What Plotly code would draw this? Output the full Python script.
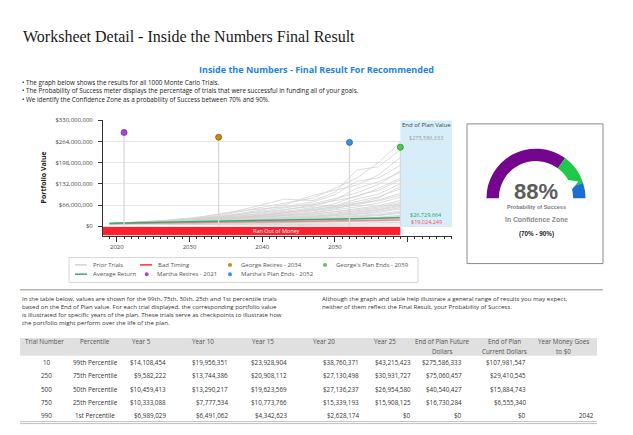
import numpy as np
import plotly.graph_objects as go

W, H = 633, 435
def PX(x): return x / W
def PY(y): return 1 - y / H

# ---------------- data ----------------
trial_years = [2019, 2023, 2027, 2031, 2035, 2039, 2043, 2047, 2050, 2053, 2056, 2059]
prior_trials_m = [
    [8, 12, 17, 24, 36, 55, 72, 88, 118, 150, 198, 262],
    [8, 13, 19, 28, 40, 61, 84, 80, 105, 175, 185, 238],
    [8, 11, 16, 23, 33, 47, 66, 96, 112, 128, 160, 214],
    [8, 12, 18, 25, 42, 52, 60, 76, 98, 140, 150, 190],
    [8, 11, 15, 21, 30, 44, 58, 70, 86, 104, 130, 172],
    [8, 12, 16, 22, 29, 38, 50, 66, 78, 92, 118, 150],
    [8, 10, 14, 20, 27, 36, 46, 58, 64, 84, 100, 132],
    [8, 11, 15, 19, 25, 32, 44, 52, 62, 76, 92, 116],
    [8, 10, 13, 18, 24, 30, 38, 48, 57, 66, 82, 102],
    [8, 11, 14, 17, 22, 29, 34, 42, 50, 60, 72, 90],
    [8, 10, 13, 16, 20, 26, 31, 39, 45, 54, 64, 80],
    [8, 9, 12, 15, 19, 23, 29, 34, 40, 48, 56, 70],
    [8, 10, 12, 14, 18, 21, 26, 31, 36, 42, 50, 62],
    [8, 9, 11, 13, 16, 19, 23, 28, 32, 37, 43, 54],
    [8, 9, 11, 13, 15, 18, 21, 25, 29, 33, 38, 47],
    [8, 9, 10, 12, 14, 16, 19, 22, 25, 29, 33, 40],
    [8, 9, 10, 11, 13, 15, 17, 20, 22, 25, 28, 34],
    [8, 8, 9, 10, 12, 13, 15, 17, 19, 21, 24, 28],
    [8, 8, 9, 10, 11, 12, 13, 14, 16, 18, 20, 23],
    [8, 8, 8, 9, 9, 10, 11, 12, 13, 14, 15, 17],
    [8, 7, 7, 7, 8, 8, 8, 9, 9, 10, 11, 12],
    [8, 7, 6, 6, 5, 5, 5, 5, 5, 6, 6, 7],
    [8, 7, 6, 5, 4, 3, 1, 0, 0, 0, 0, 0],
    [8, 10, 14, 19, 27, 34, 41, 55, 70, 95, 112, 145],
    [8, 11, 16, 22, 32, 40, 52, 62, 82, 118, 138, 168],
    [8, 10, 13, 17, 23, 28, 36, 44, 54, 70, 88, 124],
    [8, 10, 12, 15, 17, 22, 27, 30, 38, 44, 52, 66],
    [8, 9, 11, 14, 17, 20, 24, 29, 33, 39, 46, 58],
    [8, 9, 12, 13, 16, 18, 21, 26, 27, 31, 35, 43],
    [8, 9, 10, 12, 13, 15, 17, 19, 21, 23, 26, 30],
    [8, 8, 9, 11, 12, 14, 16, 18, 19, 22, 25, 31],
    [8, 8, 9, 9, 10, 11, 12, 13, 14, 15, 16, 19],
    [8, 10, 13, 18, 25, 31, 42, 50, 60, 72, 79, 96],
    [8, 11, 14, 18, 23, 27, 33, 37, 46, 51, 60, 74],
]
line_years = [2019, 2024, 2029, 2034, 2039, 2044, 2049, 2054, 2059]
average_return_m = [9.0, 11.5, 13.5, 15.5, 17.5, 19.5, 21.8, 24.0, 26.729664]
bad_timing_m = [8.0, 9.5, 10.8, 12.0, 13.3, 14.6, 16.0, 17.4, 19.024249]

event_labels = ["Martha Retires - 2021", "George Retires - 2034",
                "Martha's Plan Ends - 2052", "George's Plan Ends - 2059"]
event_years = [2021, 2034, 2052, 2059]

end_of_plan_top = 275586333
end_of_plan_avg = 26729664
end_of_plan_bad = 19024249

y_tick_vals = [0, 66e6, 132e6, 198e6, 264e6, 330e6]
x_tick_vals = [2020, 2030, 2040, 2050, 2060]
x_tick_text = ["2020", "2030", "2040", "2050", ""]

prob_success = 88
zone_low, zone_high = 70, 90

trial_numbers = [10, 250, 500, 750, 990]
percentiles = ["99th Percentile", "75th Percentile", "50th Percentile",
               "25th Percentile", "1st Percentile"]
year5 = [14108454, 9582222, 10459413, 10333088, 6989029]
year10 = [19956351, 13744386, 13290217, 7777534, 6491062]
year15 = [23928904, 20908112, 19623569, 10773766, 4342623]
year20 = [38760371, 27130498, 27136237, 15339193, 2628174]
year25 = [43215423, 30931727, 26954580, 15908125, 0]
end_future = [275586333, 75060457, 40540427, 16730284, 0]
end_current = [107981547, 29410545, 15884743, 6555340, 0]
year_to_zero = ["", "", "", "", "2042"]
table_headers = [["Trial Number"], ["Percentile"], ["Year 5"], ["Year 10"], ["Year 15"],
                 ["Year 20"], ["Year 25"], ["End of Plan Future", "Dollars"],
                 ["End of Plan", "Current Dollars"], ["Year Money Goes", "to $0"]]

# ---------------- styles / positions ----------------
FONT = "Open Sans"
event_colors = ["#a845d6", "#c48a12", "#3b8fe8", "#4fc94f"]
event_edges = ["#7b2aa6", "#8a5e00", "#2060b0", "#2e8f2e"]
event_marker_heights = [292e6, 277e6, 261e6, 246e6]
X_RANGE = [2018.1, 2066.1]
Y_RANGE = [-30e6, 330e6]

def txt(x, y, text, size, color, family=FONT, xa="center", ya="middle", **kw):
    d = dict(xref="paper", yref="paper", x=PX(x), y=PY(y), text=text, showarrow=False,
             xanchor=xa, yanchor=ya, font=dict(family=family, size=size, color=color))
    d.update(kw)
    return d

fig = go.Figure()

# prior trials
xs, ys = [], []
for tr in prior_trials_m:
    xs += trial_years + [None]
    ys += [v * 1e6 for v in tr] + [None]
fig.add_trace(go.Scatter(x=xs, y=ys, mode="lines", line=dict(color="#d2d2d2", width=0.8),
                         hoverinfo="skip", showlegend=False))
fig.add_trace(go.Scatter(x=line_years, y=[v * 1e6 for v in bad_timing_m], mode="lines",
                         line=dict(color="#f38a8a", width=1.5), showlegend=False))
fig.add_trace(go.Scatter(x=line_years, y=[v * 1e6 for v in average_return_m], mode="lines",
                         line=dict(color="#3ea776", width=1.5), showlegend=False))
# event stems + markers
sx, sy = [], []
for yr, hy in zip(event_years, event_marker_heights):
    sx += [yr, yr, None]
    sy += [0, hy, None]
fig.add_trace(go.Scatter(x=sx, y=sy, mode="lines", line=dict(color="#d9d9d9", width=1.3),
                         hoverinfo="skip", showlegend=False))
for yr, hy, c, e, lab in zip(event_years, event_marker_heights, event_colors, event_edges, event_labels):
    fig.add_trace(go.Scatter(x=[yr], y=[hy], mode="markers", name=lab,
                             marker=dict(size=6, color=c, line=dict(color=e, width=0.8)),
                             showlegend=False))

shapes = []
annotations = []
# ran out of money band
shapes.append(dict(type="rect", xref="x", yref="y", x0=X_RANGE[0], x1=2059, y0=-28e6, y1=0,
                   fillcolor="#ff1f2e", line=dict(width=0), layer="below"))
annotations.append(dict(xref="x", yref="y", x=2042, y=-14e6, text="Ran Out of Money",
                        showarrow=False, font=dict(family=FONT, size=5.5, color="white")))
# end-of-plan region
shapes.append(dict(type="rect", xref="x", yref="y", x0=2059, x1=X_RANGE[1], y0=0, y1=Y_RANGE[1],
                   fillcolor="#d6eefa", line=dict(width=0), layer="below"))
xm = (2059 + X_RANGE[1]) / 2
annotations += [
    dict(xref="x", yref="paper", x=xm, y=PY(122), yanchor="middle", text="End of Plan Value", showarrow=False,
         font=dict(family=FONT, size=6, color="#444")),
    dict(xref="x", yref="y", x=xm, y=end_of_plan_top, text=f"${end_of_plan_top:,.0f}", showarrow=False,
         font=dict(family=FONT, size=5.5, color="#9a9a9a")),
    dict(xref="x", yref="y", x=xm, y=end_of_plan_avg, yshift=2.5, text=f"${end_of_plan_avg:,.0f}",
         showarrow=False, font=dict(family=FONT, size=5.5, color="#1f9e6a")),
    dict(xref="x", yref="y", x=xm, y=end_of_plan_bad, yshift=-1.5, text=f"${end_of_plan_bad:,.0f}",
         showarrow=False, font=dict(family=FONT, size=5.5, color="#ff4a4a")),
]

# gauge
cx, cy, R = 536, 196, 50
fig.add_trace(go.Indicator(
    mode="gauge", value=prob_success,
    domain=dict(x=[PX(cx - R), PX(cx + R)], y=[PY(cy), PY(cy - R)]),
    gauge=dict(shape="angular", axis=dict(range=[0, 100], visible=False),
               bar=dict(color="rgba(0,0,0,0)", thickness=0), bgcolor="white", borderwidth=0,
               steps=[dict(range=[0, zone_low], color="#73068d"),
                      dict(range=[zone_low, zone_high], color="#1fc84a"),
                      dict(range=[zone_high, 100], color="#1a6fd0")])))
ang = np.pi * (1 - prob_success / 100)
r_in = 0.75 * R
tip = (cx + (r_in + 8) * np.cos(ang), cy - (r_in + 8) * np.sin(ang))
b1 = (cx + (r_in - 0.5) * np.cos(ang + 0.14), cy - (r_in - 0.5) * np.sin(ang + 0.14))
b2 = (cx + (r_in - 0.5) * np.cos(ang - 0.14), cy - (r_in - 0.5) * np.sin(ang - 0.14))
path = "M {} {} L {} {} L {} {} Z".format(PX(tip[0]), PY(tip[1]), PX(b1[0]), PY(b1[1]), PX(b2[0]), PY(b2[1]))
shapes.append(dict(type="path", xref="paper", yref="paper", path=path, fillcolor="white",
                   line=dict(width=0), layer="above"))
shapes.append(dict(type="rect", xref="paper", yref="paper", x0=PX(467), x1=PX(603), y0=PY(262), y1=PY(121),
                   line=dict(color="#8a8a8a", width=1), fillcolor="rgba(0,0,0,0)"))
annotations += [
    txt(536, 189, f"<b>{prob_success}%</b>", 22, "#5c5c5c", family="Liberation Sans"),
    txt(536, 204.5, "<b>Probability of Success</b>", 5.5, "#7a7a7a", family="Liberation Sans"),
    txt(536, 217, "<b>In Confidence Zone</b>", 6.8, "#8a8a8a", family="Liberation Sans"),
    txt(536, 232.5, f"<b>({zone_low}% - {zone_high}%)</b>", 6.3, "#222", family="Liberation Sans"),
]

# page texts
annotations += [
    txt(21, 33, "Worksheet Detail - Inside the Numbers Final Result", 16, "#1a1a1a",
        family="Liberation Serif", xa="left"),
    txt(316.5, 66, "<b>Inside the Numbers - Final Result For Recommended</b>", 9, "#1c84e0"),
]
bullets = ["The graph below shows the results for all 1000 Monte Carlo Trials.",
           "The Probability of Success meter displays the percentage of trials that were successful in funding all of your goals.",
           "We identify the Confidence Zone as a probability of Success between 70% and 90%."]
for i, b in enumerate(bullets):
    annotations.append(txt(20, 79 + 8.5 * i, "• " + b, 6.3, "#222", xa="left"))
annotations.append(txt(43, 175, "<b>Portfolio Value</b>", 7, "#222", textangle=-90))

# manual legend
shapes.append(dict(type="rect", xref="paper", yref="paper", x0=PX(69), x1=PX(418), y0=PY(281), y1=PY(256),
                   line=dict(color="#d4d4d4", width=1), fillcolor="white"))
leg_lines = [("Prior Trials", "#d2d2d2", 75, 263.3), ("Average Return", "#3ea776", 75, 272.7),
             ("Bad Timing", "#ff3030", 140, 263.3)]
for lab, col, x0, yy in leg_lines:
    shapes.append(dict(type="line", xref="paper", yref="paper", x0=PX(x0), x1=PX(x0 + 12), y0=PY(yy), y1=PY(yy),
                       line=dict(color=col, width=1.5)))
    annotations.append(txt(x0 + 16, yy, lab, 6, "#555", xa="left"))
leg_marks = [(event_labels[0], event_colors[0], 146.7, 272.7), (event_labels[1], event_colors[1], 230, 263.3),
             (event_labels[2], event_colors[2], 230, 272.7), (event_labels[3], event_colors[3], 325, 263.3)]
for lab, col, x0, yy in leg_marks:
    shapes.append(dict(type="circle", xref="paper", yref="paper", x0=PX(x0 - 2), x1=PX(x0 + 2),
                       y0=PY(yy + 2), y1=PY(yy - 2), fillcolor=col, line=dict(width=0)))
    annotations.append(txt(x0 + 8.5, yy, lab, 6, "#555", xa="left"))

# separator
shapes.append(dict(type="line", xref="paper", yref="paper", x0=PX(20), x1=PX(603), y0=PY(288.5), y1=PY(288.5),
                   line=dict(color="#b3b3b3", width=1.5)))
para1 = ["In the table below, values are shown for the 99th, 75th, 50th, 25th and 1st percentile trials",
         "based on the End of Plan value. For each trial displayed, the corresponding portfolio value",
         "is illustrated for specific years of the plan. These trials serve as checkpoints to illustrate how",
         "the portfolio might perform over the life of the plan."]
para2 = ["Although the graph and table help illustrate a general range of results you may expect,",
         "neither of them reflect the Final Result, your Probability of Success."]
for i, t in enumerate(para1):
    annotations.append(txt(20, 297 + 8 * i, t, 6.1, "#333", xa="left"))
for i, t in enumerate(para2):
    annotations.append(txt(320, 297 + 8 * i, t, 6.1, "#333", xa="left"))

# table (header band, header texts, cell texts)
shapes.append(dict(type="rect", xref="paper", yref="paper", x0=PX(20), x1=PX(597), y0=PY(355), y1=PY(337),
                   fillcolor="#e0e0e0", line=dict(width=0)))
header_pos = [(44, "center"), (95, "center"), (130, "left"), (190, "left"), (250, "left"),
              (311, "left"), (372, "left"), (442, "center"), (504, "center"), (563, "center")]
for lines, (hx, ha) in zip(table_headers, header_pos):
    if len(lines) == 1:
        annotations.append(txt(hx, 341, lines[0], 6.3, "#555", xa=ha))
    else:
        for j, ln in enumerate(lines):
            annotations.append(txt(hx, 341 + 9.5 * j, ln, 6.3, "#555", xa=ha))
money = lambda arr: [f"${v:,.0f}" for v in arr]
columns = [[str(v) for v in trial_numbers], percentiles, money(year5), money(year10), money(year15),
           money(year20), money(year25), money(end_future), money(end_current), year_to_zero]
cell_pos = [(47, "center"), (95, "center"), (168, "right"), (230, "right"), (289, "right"),
            (361, "right"), (412.7, "right"), (464, "right"), (528, "right"), (596, "right")]
row_y = [362, 375.3, 388.6, 401.9, 415.2]
for col, (cxp, ca) in zip(columns, cell_pos):
    for v, ry in zip(col, row_y):
        if v:
            annotations.append(txt(cxp, ry, v, 6.3, "#333", xa=ca))
for yy in (421.5, 423.5):
    shapes.append(dict(type="line", xref="paper", yref="paper", x0=PX(20), x1=PX(597), y0=PY(yy), y1=PY(yy),
                       line=dict(color="#c0c0c0", width=1)))

fig.update_layout(
    width=W, height=H, margin=dict(l=0, r=0, t=0, b=0), paper_bgcolor="white", plot_bgcolor="white",
    showlegend=False, shapes=shapes, annotations=annotations,
    xaxis=dict(domain=[PX(103), PX(452)], range=X_RANGE, showgrid=False, zeroline=False,
               showline=True, linecolor="#333", linewidth=1, ticks="outside", ticklen=5, tickcolor="#333",
               tickmode="array", tickvals=x_tick_vals, ticktext=x_tick_text,
               tickfont=dict(family=FONT, size=6, color="#444"),
               minor=dict(ticks="outside", ticklen=2.5, tickcolor="#333", tickmode="linear", tick0=2018, dtick=1,
                          showgrid=False)),
    yaxis=dict(domain=[PY(234), PY(117.3)], range=Y_RANGE, showgrid=True, gridcolor="#e6e6e6", zeroline=False,
               showline=True, linecolor="#333", linewidth=1, ticks="outside", ticklen=4, tickcolor="#333",
               tickmode="array", tickvals=y_tick_vals, ticktext=[f"${v:,.0f}" for v in y_tick_vals],
               ticklabelstandoff=4, tickfont=dict(family=FONT, size=6, color="#444")),
)
fig.write_html("out.html", config={"displayModeBar": False},
               post_script="document.body.style.margin='0';")
